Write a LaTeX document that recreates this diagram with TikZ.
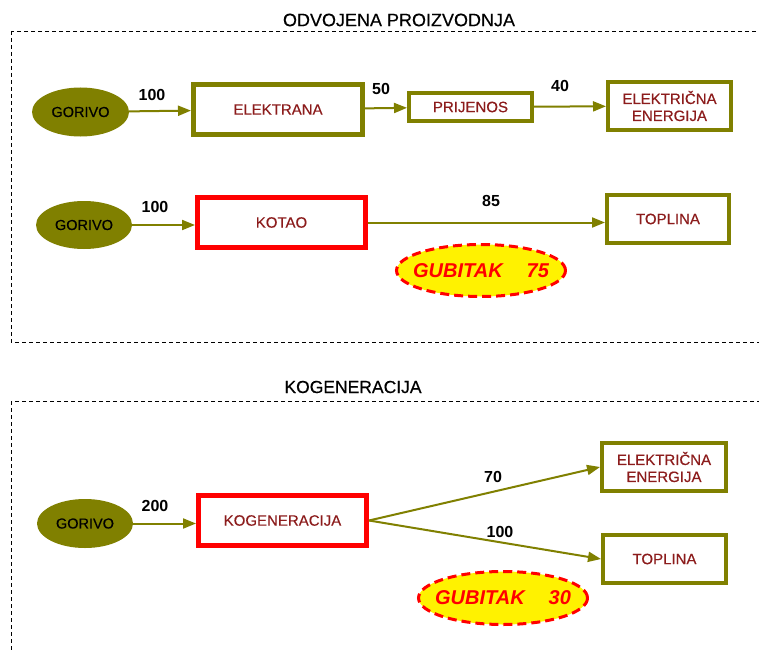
\documentclass[tikz,border=0pt]{standalone}
\usepackage{fontspec}
\setmainfont{Liberation Sans}
\newfontfamily\heavyfont[FakeBold=0.4]{Liberation Sans}
\usetikzlibrary{arrows.meta,shapes.geometric}
\definecolor{olivec}{RGB}{128,128,0}
\definecolor{txtred}{RGB}{140,28,28}
\begin{document}
\begin{tikzpicture}[x=1pt,y=-1pt,
  fuel/.style={ellipse, fill=olivec, draw=none, inner sep=0pt, text=black, font=\heavyfont\fontsize{14.5}{17}\selectfont},
  obox/.style={rectangle, draw=olivec, fill=white, inner sep=0pt, align=center, text=txtred, font=\heavyfont\fontsize{15}{17}\selectfont},
  rbox/.style={obox, draw=red},
  loss/.style={ellipse, draw=red, fill=yellow, dash pattern=on 9pt off 5pt, line width=3pt, inner sep=0pt, text=red, font=\fontsize{20}{24}\selectfont\bfseries\itshape},
  flow/.style={-{Triangle[length=13pt,width=10pt]}, draw=olivec, line width=2pt},
  num/.style={font=\fontsize{16}{19}\selectfont\bfseries},
  frame/.style={dash pattern=on 4pt off 3pt, line width=0.9pt},
  ttl/.style={font=\heavyfont\fontsize{18}{21}\selectfont}]
\useasboundingbox (0,0) rectangle (759,650);
\clip (0,0) rectangle (759,650);
\fill[white] (0,0) rectangle (759,650);
% frames
\draw[frame] (11,31) rectangle (790,342);
\draw[frame] (11,401) rectangle (790,690);
\node[ttl] (t1) at (399,20) {ODVOJENA PROIZVODNJA};
\node[ttl, font=\heavyfont\fontsize{17.5}{21}\selectfont] (t2) at (353,387) {KOGENERACIJA};
% row 1
\node[fuel, minimum width=97pt, minimum height=49pt] (g1) at (80.5,112) {GORIVO};
\node[obox, line width=5pt, minimum width=169pt, minimum height=50pt] (elk) at (278,109.5) {ELEKTRANA};
\node[obox, line width=4pt, minimum width=123pt, minimum height=28pt] (pri) at (470.5,107) {PRIJENOS};
\node[obox, line width=4pt, minimum width=123pt, minimum height=48pt] (ee1) at (669.5,106) {ELEKTRIČNA\\ENERGIJA};
\draw[flow] (g1) -- (elk);
\draw[flow] (elk) -- (pri);
\draw[flow] (pri) -- (ee1);
\node[num] (n1) at (152,95) {100};
\node[num] (n2) at (381,89) {50};
\node[num] (n3) at (560,86) {40};
% row 2
\node[fuel, minimum width=96pt, minimum height=48pt] (g2) at (84,225) {GORIVO};
\node[rbox, line width=5pt, minimum width=168pt, minimum height=50pt] (kot) at (281.5,222.5) {KOTAO};
\node[obox, line width=4pt, minimum width=122pt, minimum height=48pt] (tp1) at (668,219) {TOPLINA};
\draw[flow] (g2.east) -- (g2.east -| kot.west);
\draw[flow] (kot.east) -- (kot.east -| tp1.west);
\node[num] (n4) at (155,207) {100};
\node[num] (n5) at (491,201) {85};
\node[loss, minimum width=169pt, minimum height=52pt] (gb1) at (481,270.5) {\makebox[0pt]{GUBITAK\hspace{24pt}75}};
% cogeneration
\node[fuel, minimum width=96pt, minimum height=49pt] (g3) at (85,523.5) {GORIVO};
\node[rbox, line width=5pt, minimum width=168pt, minimum height=50pt] (kog) at (282.5,520.5) {KOGENERACIJA};
\node[obox, line width=4pt, minimum width=124pt, minimum height=48pt] (ee2) at (664,467) {ELEKTRIČNA\\ENERGIJA};
\node[obox, line width=4pt, minimum width=123pt, minimum height=48pt] (tp2) at (664.5,559) {TOPLINA};
\draw[flow] (g3.east) -- (g3.east -| kog.west);
\draw[flow] (kog.east) -- (ee2.west);
\draw[flow] (kog.east) -- (tp2.west);
\node[num] (n6) at (155,506) {200};
\node[num] (n7) at (493,477) {70};
\node[num] (n8) at (500,532) {100};
\node[loss, minimum width=169pt, minimum height=53pt] (gb2) at (503,598) {\makebox[0pt]{GUBITAK\hspace{24pt}30}};
\end{tikzpicture}
\end{document}
